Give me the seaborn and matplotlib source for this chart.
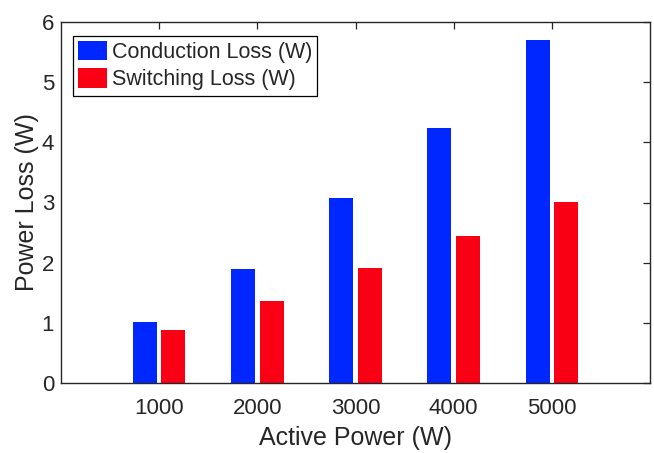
import matplotlib
matplotlib.use("Agg")
import matplotlib.pyplot as plt
import seaborn as sns
import pandas as pd

active_power = ["1000", "2000", "3000", "4000", "5000"]
conduction_loss = [1.02, 1.90, 3.07, 4.23, 5.70]
switching_loss = [0.88, 1.36, 1.91, 2.44, 3.01]
series_names = ["Conduction Loss (W)", "Switching Loss (W)"]
colors = ["#0027ff", "#fa0014"]

df = pd.DataFrame({
    "Active Power (W)": active_power * 2,
    "Power Loss (W)": conduction_loss + switching_loss,
    "Series": [series_names[0]] * len(active_power) + [series_names[1]] * len(active_power),
})

sns.set_style("white")
plt.rcParams["font.family"] = ["Liberation Sans", "DejaVu Sans"]

fig = plt.figure(figsize=(6.54, 4.53), dpi=100)
ax = fig.add_axes([61 / 654, 70 / 453, 589 / 654, 361 / 453])

sns.barplot(data=df, x="Active Power (W)", y="Power Loss (W)", hue="Series",
            order=active_power, hue_order=series_names, palette=colors,
            width=0.58, gap=0.155, linewidth=0, saturation=1, ax=ax)

ax.set_xlim(-1, 5)
ax.set_ylim(0, 6)
ax.set_yticks(range(0, 7))
ax.set_xlabel("Active Power (W)", fontsize=18, color="#262626", labelpad=5)
ax.set_ylabel("Power Loss (W)", fontsize=18, color="#262626", labelpad=2)
ax.tick_params(axis="both", direction="in", length=5, width=0.9, colors="#262626",
               labelsize=16, top=True, right=True, labelcolor="#262626")
ax.tick_params(axis="x", pad=11)
ax.tick_params(axis="y", pad=5)
for s in ax.spines.values():
    s.set_visible(True)
    s.set_color("#262626")
    s.set_linewidth(1.0)

leg = ax.get_legend()
handles = leg.legend_handles
labels = [t.get_text() for t in leg.get_texts()]
leg.remove()
ax.legend(handles, labels, loc="upper left", bbox_to_anchor=(0.02, 0.962),
          borderaxespad=0, fontsize=15.5, frameon=True, fancybox=False,
          edgecolor="black", framealpha=1, handlelength=1.35, handleheight=1.0,
          handletextpad=0.2, labelspacing=0.25, borderpad=0.25)
ax.get_legend().get_frame().set_linewidth(0.9)

fig.savefig("out.png", dpi=100)
